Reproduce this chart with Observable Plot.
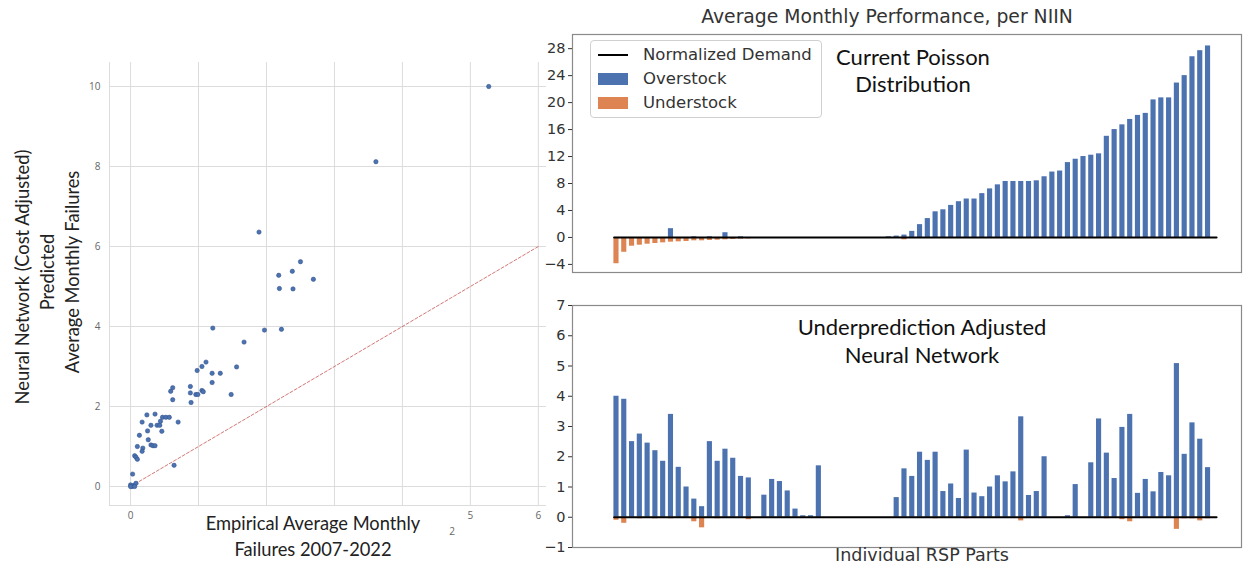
<!DOCTYPE html>
<html>
<head>
<meta charset="utf-8">
<script src="https://cdn.jsdelivr.net/npm/d3@7"></script>
<script src="https://cdn.jsdelivr.net/npm/@observablehq/plot@0.6"></script>
<style>
  html, body { margin: 0; padding: 0; background: #fff; }
  #root { position: relative; width: 1244px; height: 567px; overflow: hidden; background: #fff; }
  #root svg { position: absolute; overflow: visible; }
  .lbl { position: absolute; white-space: nowrap; transform: translate(-50%, -50%); line-height: 1; }
</style>
</head>
<body>
<div id="root"></div>
<script>
// ---------- DATA ----------
// Scatter: empirical vs predicted average monthly failures
const empirical = [5.27, 3.61, 1.89, 2.50, 2.18, 2.38, 2.69, 2.19, 2.39, 1.21, 1.97, 2.22, 1.67, 1.11, 1.05, 0.98, 1.20, 1.32, 1.56, 1.20,
  0.88, 0.88, 0.96, 0.99, 1.05, 1.07, 0.89, 1.48, 0.62, 0.59, 0.62, 0.24, 0.36, 0.47, 0.52, 0.57, 0.17, 0.30, 0.39, 0.43,
  0.44, 0.70, 0.46, 0.25, 0.13, 0.26, 0.30, 0.33, 0.36, 0.10, 0.18, 0.17, 0.06, 0.08, 0.10, 0.64, 0.03, 0.00, 0.02, 0.05,
  0.08, 0.00, 0.06];
const predicted = [10.0, 8.12, 6.36, 5.62, 5.28, 5.38, 5.18, 4.95, 4.94, 3.96, 3.91, 3.93, 3.61, 3.11, 3.00, 2.90, 2.83, 2.83, 2.99, 2.60,
  2.50, 2.34, 2.30, 2.30, 2.40, 2.37, 2.10, 2.30, 2.47, 2.38, 2.17, 1.79, 1.81, 1.73, 1.73, 1.73, 1.61, 1.53, 1.53, 1.53,
  1.63, 1.61, 1.38, 1.39, 1.28, 1.17, 1.04, 1.02, 1.02, 1.00, 0.96, 0.88, 0.77, 0.73, 0.68, 0.53, 0.31, 0.04, 0.00, 0.03,
  0.08, 0.00, 0.00];
const identityLine = [0, 6];
const scatterXTicks = [0, 5, 6];
const scatterGrid = [0, 1, 2, 3, 4, 5, 6];
const scatterYTicks = [0, 2, 4, 6, 8, 10];

// Current Poisson Distribution (per NIIN, 77 parts)
const poissonOver = [0, 0, 0, 0, 0, 0, 0, 1.3, 0, 0, 0.1, 0, 0.1, 0, 0.7, 0, 0.1, 0,
  0, 0, 0, 0, 0, 0, 0, 0, 0, 0, 0, 0, 0, 0, 0, 0, 0,
  0.1, 0.2, 0.35,
  0.9, 1.9, 2.8, 3.8, 4.1, 4.75, 5.3, 5.7, 5.7, 6.5, 7.2, 7.8, 8.3, 8.3, 8.3, 8.3, 8.4, 9.0, 9.7, 9.85, 11.1, 11.6, 12.0, 12.2, 12.4,
  15.0, 16.0, 16.7, 17.5, 18.1, 18.4, 20.4, 20.7, 20.7, 22.9, 24.0, 26.8, 27.7, 28.4];
const poissonUnder = [-3.9, -2.2, -1.3, -1.15, -1.0, -0.9, -0.8, -0.7, -0.65, -0.6, -0.5, -0.5, -0.45, -0.4, -0.35, -0.3, -0.25, -0.2,
  0, 0, 0, 0, 0, 0, 0, 0, 0, 0, 0, 0, 0, 0, 0, 0, 0,
  0, -0.15, -0.35,
  0, 0, 0, 0, 0, 0, 0, 0, 0, 0, 0, 0, 0, 0, 0, 0, 0, 0, 0, 0, 0, 0, 0, 0, 0,
  0, 0, 0, 0, 0, 0, 0, 0, 0, 0, 0, 0, 0, 0];

// Underprediction Adjusted Neural Network (same 77 parts)
const nnOver = [4.0, 3.9, 2.5, 2.75, 2.45, 2.2, 1.85, 3.4, 1.65, 1.0, 0.6, 0.35, 2.5, 1.85, 2.25, 1.95, 1.35, 1.3, 0,
  0.73, 1.25, 1.18, 0.87, 0.27, 0.05, 0.05, 1.7,
  0, 0, 0, 0, 0, 0, 0, 0, 0,
  0.65, 1.6, 1.35, 2.15, 1.88, 2.15, 0.85, 1.1, 0.62, 2.22, 0.8, 0.68, 1.0, 1.37, 1.17, 1.5, 3.32, 0.72, 0.85, 2.0,
  0, 0, 0.05, 1.08, 0,
  1.8, 3.25, 2.12, 1.28, 2.97, 3.4, 0.79, 1.25, 0.84, 1.48, 1.37, 5.08, 2.08, 3.12, 2.58, 1.64];
const nnUnder = [-0.1, -0.2, 0, -0.05, 0, -0.05, 0, -0.05, 0, 0, -0.15, -0.35, 0, -0.05, 0, 0, 0, -0.08, 0,
  0, 0, 0, 0, 0, 0, 0, 0,
  0, 0, 0, 0, 0, 0, 0, 0, 0,
  0, 0, 0, 0, 0, -0.05, 0, 0, 0, -0.05, 0, 0, 0, 0, 0, 0, -0.12, 0, 0, 0,
  0, 0, 0, 0, 0,
  0, 0, -0.05, 0, -0.08, -0.15, 0, 0, 0, 0, 0, -0.4, -0.05, -0.05, -0.12, -0.05];

const demandSpan = [-0.3, 77.1];
const poissonTicks = [-4, 0, 4, 8, 12, 16, 20, 24, 28];
const nnTicks = [-1, 0, 1, 2, 3, 4, 5, 6, 7];

const legendItems = ["Normalized Demand", "Overstock", "Understock"];

// ---------- STYLE ----------
const BLUE = "#4C72B0";
const ORANGE = "#DD8452";
const root = document.getElementById("root");

function place(svg, left, topPx) {
  svg.style.left = left + "px";
  svg.style.top = topPx + "px";
  root.appendChild(svg);
}
function label(text, cx, cy, css) {
  const d = document.createElement("div");
  d.className = "lbl";
  d.textContent = text;
  d.style.left = cx + "px";
  d.style.top = cy + "px";
  Object.assign(d.style, css || {});
  root.appendChild(d);
  return d;
}

// ---------- SCATTER ----------
const pts = empirical.map((x, i) => ({x, y: predicted[i]}));
const scatterChart = Plot.plot({
  width: 560, height: 540,
  marginLeft: 109, marginRight: 14, marginTop: 62, marginBottom: 35,
  style: {fontFamily: "Open Sans", fontSize: "10px", color: "#666", background: "transparent"},
  x: {domain: [-0.31, 6.12], axis: null},
  y: {domain: [-0.475, 10.6], axis: null},
  marks: [
    Plot.gridX(scatterGrid, {stroke: "#dcdcdc", strokeOpacity: 1}),
    Plot.gridY(scatterYTicks, {stroke: "#dcdcdc", strokeOpacity: 1}),
    Plot.ruleX([-0.31], {stroke: "#dcdcdc"}),
    Plot.ruleY([-0.475], {stroke: "#dcdcdc"}),
    Plot.text(scatterXTicks, {x: d => d, frameAnchor: "bottom", dy: 13, text: d => String(d), fill: "#666", fontSize: 10}),
    Plot.text(scatterYTicks, {y: d => d, frameAnchor: "left", dx: -9, textAnchor: "end", text: d => String(d), fill: "#666", fontSize: 10}),
    Plot.line(identityLine.map(v => ({x: v, y: v})), {x: "x", y: "y", stroke: "#c9605e", strokeWidth: 1, strokeDasharray: "3,2", strokeOpacity: 0.85}),
    Plot.dot(pts, {x: "x", y: "y", r: 2.2, fill: BLUE, stroke: "#2f4f8a", strokeWidth: 0.5})
  ]
});
place(scatterChart, 0, 0);

// ---------- BAR PANELS ----------
function barPanel(over, under, ticks, yDomain, h, mt, mb) {
  const over_ = over.map((v, i) => ({i, v}));
  const under_ = under.map((v, i) => ({i, v}));
  return Plot.plot({
    width: 724, height: h,
    marginLeft: 52, marginRight: 3, marginTop: mt, marginBottom: mb,
    style: {fontFamily: "DejaVu Sans", fontSize: "14.5px", color: "#333", background: "transparent"},
    x: {domain: [-5.65, 80.3], axis: null},
    y: {domain: yDomain},
    marks: [
      Plot.rectY(over_.filter(d => d.v !== 0), {x1: d => d.i - 0.33, x2: d => d.i + 0.33, y1: 0, y2: "v", fill: BLUE}),
      Plot.rectY(under_.filter(d => d.v !== 0), {x1: d => d.i - 0.33, x2: d => d.i + 0.33, y1: 0, y2: "v", fill: ORANGE}),
      Plot.line(demandSpan.map(x => ({x, y: 0})), {x: "x", y: "y", stroke: "#000", strokeWidth: 2}),
      Plot.frame({stroke: "#8a8a8a", strokeWidth: 1.2}),
      Plot.axisY(ticks, {tickSize: 4, tickPadding: 3, label: null, stroke: "#333"})
    ]
  });
}
const poissonChart = barPanel(poissonOver, poissonUnder, poissonTicks, [-5.2, 30.1], 250, 4, 8);
place(poissonChart, 520, 30);
const nnChart = barPanel(nnOver, nnUnder, nnTicks, [-1, 7], 260, 10, 8);
place(nnChart, 520, 295);

// ---------- TEXT ----------
const calib = {fontFamily: "Lato", fontSize: "22px", color: "#111"};
label("Average Monthly Performance, per NIIN", 887, 17, {fontFamily: "DejaVu Sans", fontSize: "18.8px", color: "#333"});
label("Current Poisson", 913, 57, calib);
label("Distribution", 913, 84, calib);
label("Underprediction Adjusted", 922, 327, calib);
label("Neural Network", 922, 355, calib);
label("Individual RSP Parts", 922, 556, {fontFamily: "DejaVu Sans", fontSize: "17.5px", color: "#333"});

const sl = {fontFamily: "Lato", fontSize: "18.3px", color: "#222"};
label("Empirical Average Monthly", 313, 523, Object.assign({background: "#fff", padding: "2px 6px"}, sl));
label("Failures 2007-2022", 313, 549, sl);
label("2", 452, 531, {fontFamily: "Open Sans", fontSize: "10px", color: "#666"});
const rot = Object.assign({}, sl, {transform: "translate(-50%, -50%) rotate(-90deg)"});
label("Neural Network (Cost Adjusted)", 22, 277, rot);
label("Predicted", 47, 272, rot);
label("Average Monthly Failures", 72, 272, rot);

// ---------- LEGEND ----------
const lg = document.createElement("div");
Object.assign(lg.style, {position: "absolute", left: "590px", top: "40px", width: "232px", height: "78px",
  border: "1px solid #d0d0d0", borderRadius: "4px", background: "rgba(255,255,255,0.85)", boxSizing: "border-box"});
root.appendChild(lg);
legendItems.forEach((name, k) => {
  const cy = 55 + k * 24;
  const sw = document.createElement("div");
  const isLine = k === 0;
  Object.assign(sw.style, {position: "absolute", left: "598px", width: "30px",
    top: (isLine ? cy - 1 : cy - 6) + "px", height: (isLine ? 2 : 12) + "px",
    background: k === 0 ? "#000" : k === 1 ? BLUE : ORANGE});
  root.appendChild(sw);
  label(name, 643, cy, {fontFamily: "DejaVu Sans", fontSize: "16.5px", color: "#333", transform: "translate(0, -50%)"});
});
</script>
</body>
</html>
